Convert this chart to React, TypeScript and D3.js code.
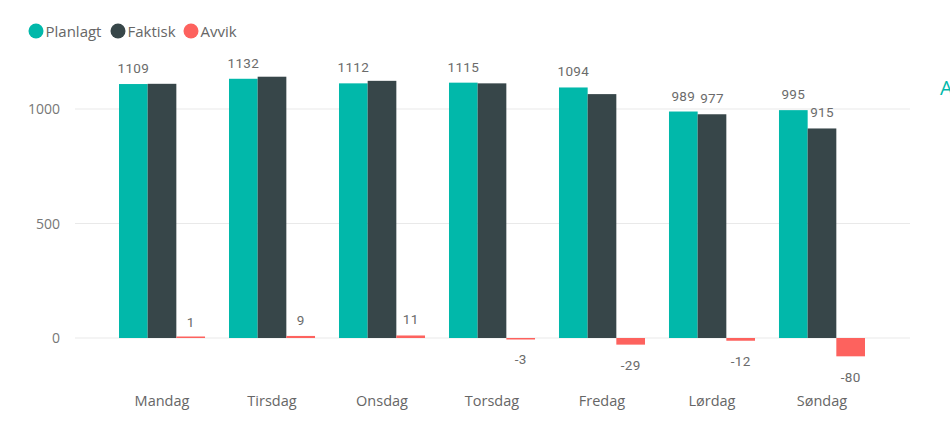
import React from "react";
import * as d3 from "d3";

const categories = ["Mandag", "Tirsdag", "Onsdag", "Torsdag", "Fredag", "Lørdag", "Søndag"];
const planlagt = [1109, 1132, 1112, 1115, 1094, 989, 995];
const faktisk = [1110, 1141, 1123, 1112, 1065, 977, 915];
const avvik = [1, 9, 11, -3, -29, -12, -80];
const yTicks = [0, 500, 1000];
const seriesNames = ["Planlagt", "Faktisk", "Avvik"];
const colors = ["#01B8AA", "#374649", "#FD625E"];

const W = 950;
const H = 436;

export default function App() {
  const x = d3.scaleBand<string>().domain(categories).range([119, 865]).paddingInner(0.218).paddingOuter(0);
  const x1 = d3.scaleBand<string>().domain(seriesNames).range([0, x.bandwidth()]);
  const y = d3.scaleLinear().domain([0, 1000]).range([338, 109]);
  const series = [planlagt, faktisk, avvik];
  const labelFont = "Roboto, 'DejaVu Sans', sans-serif";
  const uiFont = "'Open Sans', 'Noto Sans', sans-serif";
  const charW = 7.5;

  const labels: JSX.Element[] = [];
  categories.forEach((c, i) => {
    const boxes: { x0: number; x1: number; y0: number; y1: number }[] = [];
    series.forEach((s, si) => {
      const v = s[i];
      const cx = (x(c) as number) + (x1(seriesNames[si]) as number) + x1.bandwidth() / 2;
      const txt = String(v);
      const w = txt.length * charW;
      const by = v >= 0 ? y(v) - 11 : y(v) + 25.5;
      const box = { x0: cx - w / 2, x1: cx + w / 2, y0: by - 11, y1: by + 2 };
      const overlap = boxes.some(
        (b) => !(box.x1 <= b.x0 || box.x0 >= b.x1 || box.y1 <= b.y0 || box.y0 >= b.y1)
      );
      if (overlap) return;
      boxes.push(box);
      labels.push(
        <text
          key={`l-${i}-${si}`}
          x={cx}
          y={by}
          textAnchor="middle"
          fontFamily={labelFont}
          fontSize={13.5}
          letterSpacing={0.3}
          fill="#6b6b6b"
        >
          {txt}
        </text>
      );
    });
  });

  return (
    <svg width={W} height={H} style={{ position: "absolute", left: 0, top: 0, background: "#fff" }}>
      {/* legend */}
      {seriesNames.map((n, i) => {
        const lx = [36, 118, 191][i];
        return (
          <g key={n}>
            <circle cx={lx} cy={31} r={7.5} fill={colors[i]} />
            <text x={lx + 9.5} y={36.5} fontFamily={uiFont} fontSize={15} fill="#666">
              {n}
            </text>
          </g>
        );
      })}
      {/* gridlines */}
      {yTicks.map((t) => (
        <g key={t}>
          <line x1={75} x2={910} y1={y(t)} y2={y(t)} stroke="#e9e9e9" strokeWidth={1} />
          <text x={60} y={y(t) + 5} textAnchor="end" fontFamily={uiFont} fontSize={14} fill="#777">
            {t}
          </text>
        </g>
      ))}
      {/* bars */}
      {categories.map((c, i) => (
        <g key={c} transform={`translate(${x(c)},0)`}>
          {series.map((s, si) => {
            const v = s[i];
            const y0 = y(Math.max(0, v));
            const h = Math.max(Math.abs(y(v) - y(0)), 1.5);
            return (
              <rect
                key={si}
                x={x1(seriesNames[si]) as number}
                y={v >= 0 ? y(0) - h : y0}
                width={x1.bandwidth()}
                height={h}
                fill={colors[si]}
              />
            );
          })}
          <text
            x={x.bandwidth() / 2}
            y={405.5}
            textAnchor="middle"
            fontFamily={uiFont}
            fontSize={14.5}
            fill="#666"
          >
            {c}
          </text>
        </g>
      ))}
      {labels}
      <text x={940} y={95} fontFamily={uiFont} fontSize={20} fill="#01B8AA">
        A
      </text>
    </svg>
  );
}
